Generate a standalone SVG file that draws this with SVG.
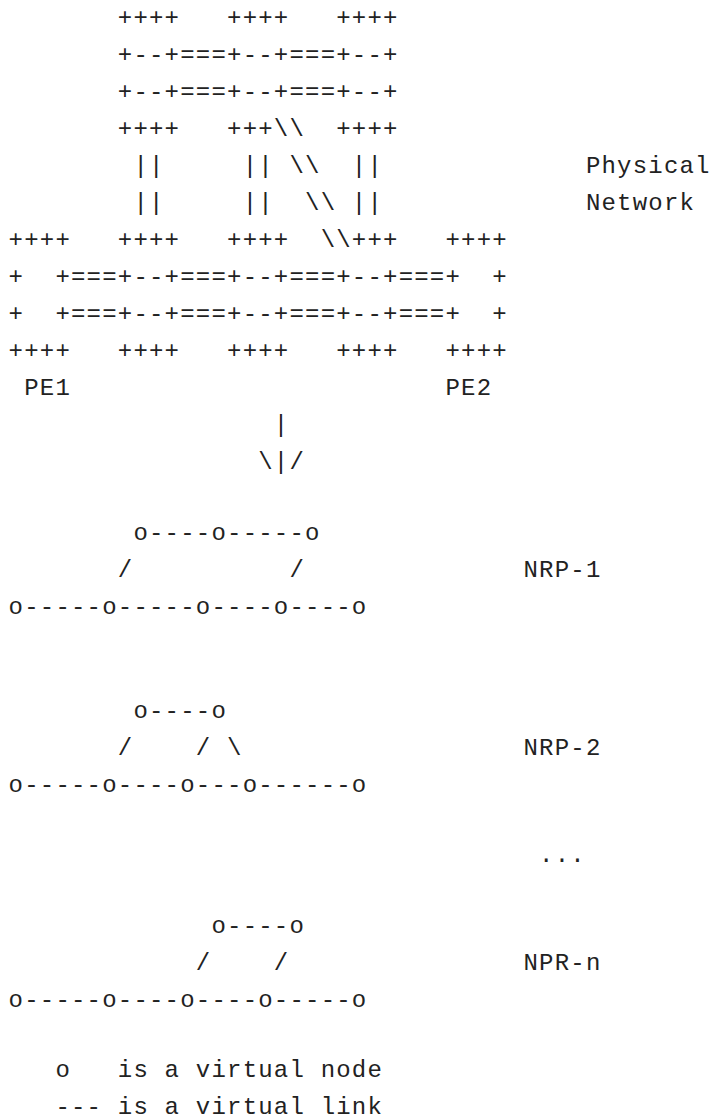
<svg xmlns="http://www.w3.org/2000/svg" width="709" height="1118" viewBox="0 0 709 1118">
<style>
  text { font-family: "Liberation Mono", "DejaVu Sans Mono", monospace; font-size: 24px; letter-spacing: 1.2px; fill: #222; white-space: pre; }
</style>
<rect width="709" height="1118" fill="#ffffff"/>
<g id="physical-network" xml:space="preserve">
  <text x="8.6" y="24.5">       ++++   ++++   ++++</text>
  <text x="8.6" y="61.5">       +--+===+--+===+--+</text>
  <text x="8.6" y="98.5">       +--+===+--+===+--+</text>
  <text x="8.6" y="135.5">       ++++   +++\\  ++++</text>
  <text x="8.6" y="172.5">        ||     || \\  ||             Physical</text>
  <text x="8.6" y="209.5">        ||     ||  \\ ||             Network</text>
  <text x="8.6" y="246.5">++++   ++++   ++++  \\+++   ++++</text>
  <text x="8.6" y="283.5">+  +===+--+===+--+===+--+===+  +</text>
  <text x="8.6" y="320.5">+  +===+--+===+--+===+--+===+  +</text>
  <text x="8.6" y="357.5">++++   ++++   ++++   ++++   ++++</text>
  <text x="8.6" y="394.5"> PE1                        PE2</text>
</g>
<g id="connectors" xml:space="preserve">
  <text x="8.6" y="431.5">                 |</text>
  <text x="8.6" y="468.5">                \|/</text>
</g>
<g id="nrp-1" xml:space="preserve">
  <text x="8.6" y="539.5">        o----o-----o</text>
  <text x="8.6" y="576.5">       /          /              NRP-1</text>
  <text x="8.6" y="613.5">o-----o-----o----o----o</text>
</g>
<g id="nrp-2" xml:space="preserve">
  <text x="8.6" y="718">        o----o</text>
  <text x="8.6" y="755">       /    / \                  NRP-2</text>
  <text x="8.6" y="792">o-----o----o---o------o</text>
</g>
<g id="ellipsis" xml:space="preserve">
  <text x="8.6" y="862">                                  ...</text>
</g>
<g id="npr-n" xml:space="preserve">
  <text x="8.6" y="933">             o----o</text>
  <text x="8.6" y="970">            /    /               NPR-n</text>
  <text x="8.6" y="1007">o-----o----o----o-----o</text>
</g>
<g id="legend" xml:space="preserve">
  <text x="8.6" y="1077.3">   o   is a virtual node</text>
  <text x="8.6" y="1114">   --- is a virtual link</text>
</g>
</svg>
